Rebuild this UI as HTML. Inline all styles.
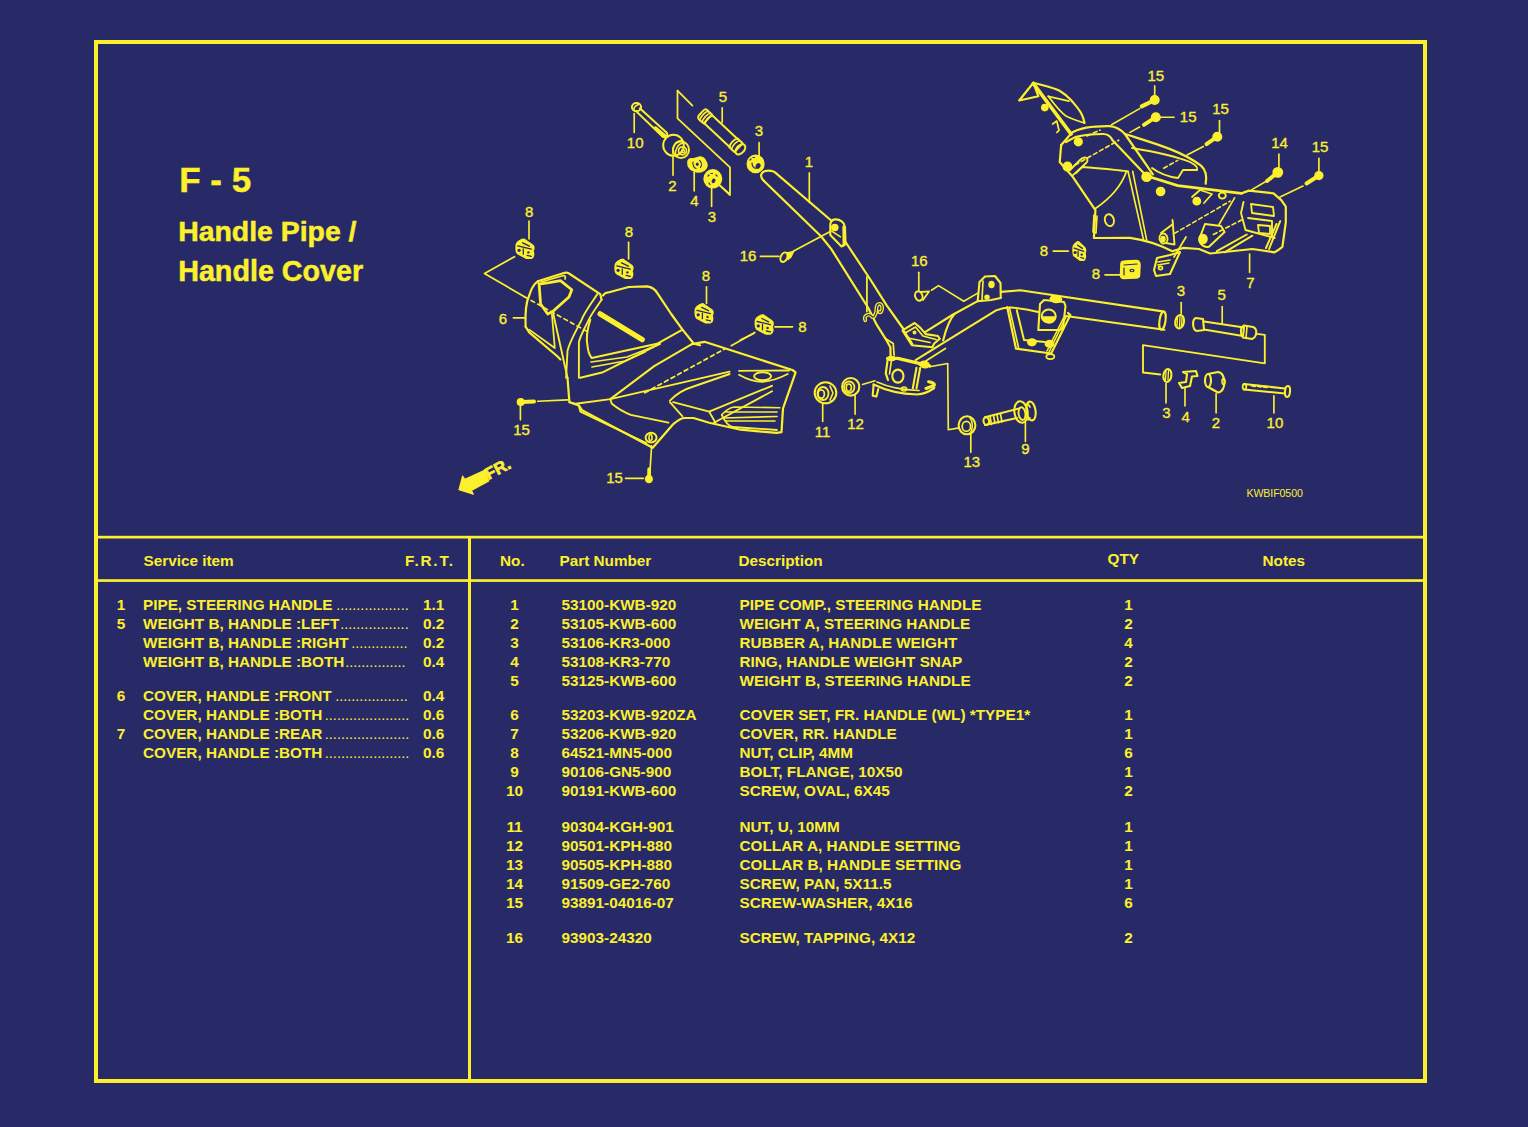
<!DOCTYPE html>
<html><head><meta charset="utf-8"><style>
html,body{margin:0;padding:0;background:rgb(40,42,104);width:1528px;height:1127px;overflow:hidden}
svg{position:absolute;left:0;top:0;display:block}
text{font-family:"Liberation Sans",sans-serif;fill:#fcf02c}
</style></head><body>
<svg width="1528" height="1127" viewBox="0 0 1528 1127">
<rect x="96" y="42" width="1329" height="1039" fill="none" stroke="#fcf02c" stroke-width="4"/>
<rect x="94" y="535.8" width="1333" height="2.7" fill="#fcf02c"/>
<rect x="94" y="579.2" width="1333" height="2.7" fill="#fcf02c"/>
<rect x="468" y="537" width="3" height="546" fill="#fcf02c"/>
<text x="0" y="0" font-size="35" font-weight="bold" transform="translate(179.2,191.6)" stroke="#fcf02c" stroke-width="0.4">F - 5</text>
<text x="178.2" y="240.8" font-size="28.4" font-weight="bold" stroke="#fcf02c" stroke-width="0.5">Handle Pipe /</text>
<text x="178.2" y="280.9" font-size="28.7" font-weight="bold" stroke="#fcf02c" stroke-width="0.5">Handle Cover</text>
<text x="143.5" y="565.5" font-size="15.3" font-weight="bold">Service item</text>
<text x="405" y="566" font-size="15.3" font-weight="bold" letter-spacing="1.8">F.R.T.</text>
<text x="500" y="566" font-size="15.3" font-weight="bold">No.</text>
<text x="559.5" y="566" font-size="15.3" font-weight="bold">Part Number</text>
<text x="738.5" y="566" font-size="15.3" font-weight="bold">Description</text>
<text x="1107.5" y="564" font-size="15.3" font-weight="bold">QTY</text>
<text x="1262.5" y="566" font-size="15.3" font-weight="bold">Notes</text>
<text x="121" y="609.6" font-size="15.3" font-weight="bold" text-anchor="middle">1</text>
<text x="143" y="609.6" font-size="15.3" font-weight="bold">PIPE, STEERING HANDLE</text>
<text x="336.2" y="609.6" font-size="14.5" font-weight="normal" letter-spacing="0">..................</text>
<text x="423" y="609.6" font-size="15.3" font-weight="bold">1.1</text>
<text x="121" y="628.7" font-size="15.3" font-weight="bold" text-anchor="middle">5</text>
<text x="143" y="628.7" font-size="15.3" font-weight="bold">WEIGHT B, HANDLE :LEFT</text>
<text x="340.2" y="628.7" font-size="14.5" font-weight="normal" letter-spacing="0">.................</text>
<text x="423" y="628.7" font-size="15.3" font-weight="bold">0.2</text>
<text x="143" y="647.8" font-size="15.3" font-weight="bold">WEIGHT B, HANDLE :RIGHT</text>
<text x="351.2" y="647.8" font-size="14.5" font-weight="normal" letter-spacing="0">..............</text>
<text x="423" y="647.8" font-size="15.3" font-weight="bold">0.2</text>
<text x="143" y="666.9" font-size="15.3" font-weight="bold">WEIGHT B, HANDLE :BOTH</text>
<text x="345.2" y="666.9" font-size="14.5" font-weight="normal" letter-spacing="0">...............</text>
<text x="423" y="666.9" font-size="15.3" font-weight="bold">0.4</text>
<text x="121" y="700.7" font-size="15.3" font-weight="bold" text-anchor="middle">6</text>
<text x="143" y="700.7" font-size="15.3" font-weight="bold">COVER, HANDLE :FRONT</text>
<text x="335.2" y="700.7" font-size="14.5" font-weight="normal" letter-spacing="0">..................</text>
<text x="423" y="700.7" font-size="15.3" font-weight="bold">0.4</text>
<text x="143" y="719.8" font-size="15.3" font-weight="bold">COVER, HANDLE :BOTH</text>
<text x="324.8" y="719.8" font-size="14.5" font-weight="normal" letter-spacing="0">.....................</text>
<text x="423" y="719.8" font-size="15.3" font-weight="bold">0.6</text>
<text x="121" y="738.9" font-size="15.3" font-weight="bold" text-anchor="middle">7</text>
<text x="143" y="738.9" font-size="15.3" font-weight="bold">COVER, HANDLE :REAR</text>
<text x="324.8" y="738.9" font-size="14.5" font-weight="normal" letter-spacing="0">.....................</text>
<text x="423" y="738.9" font-size="15.3" font-weight="bold">0.6</text>
<text x="143" y="758.0" font-size="15.3" font-weight="bold">COVER, HANDLE :BOTH</text>
<text x="324.8" y="758.0" font-size="14.5" font-weight="normal" letter-spacing="0">.....................</text>
<text x="423" y="758.0" font-size="15.3" font-weight="bold">0.6</text>
<text x="514.5" y="609.5" font-size="15.3" font-weight="bold" text-anchor="middle">1</text>
<text x="561.5" y="609.5" font-size="15.3" font-weight="bold">53100-KWB-920</text>
<text x="739.5" y="609.5" font-size="15.3" font-weight="bold">PIPE COMP., STEERING HANDLE</text>
<text x="1128.5" y="609.5" font-size="15.3" font-weight="bold" text-anchor="middle">1</text>
<text x="514.5" y="628.6" font-size="15.3" font-weight="bold" text-anchor="middle">2</text>
<text x="561.5" y="628.6" font-size="15.3" font-weight="bold">53105-KWB-600</text>
<text x="739.5" y="628.6" font-size="15.3" font-weight="bold">WEIGHT A, STEERING HANDLE</text>
<text x="1128.5" y="628.6" font-size="15.3" font-weight="bold" text-anchor="middle">2</text>
<text x="514.5" y="647.7" font-size="15.3" font-weight="bold" text-anchor="middle">3</text>
<text x="561.5" y="647.7" font-size="15.3" font-weight="bold">53106-KR3-000</text>
<text x="739.5" y="647.7" font-size="15.3" font-weight="bold">RUBBER A, HANDLE WEIGHT</text>
<text x="1128.5" y="647.7" font-size="15.3" font-weight="bold" text-anchor="middle">4</text>
<text x="514.5" y="666.8" font-size="15.3" font-weight="bold" text-anchor="middle">4</text>
<text x="561.5" y="666.8" font-size="15.3" font-weight="bold">53108-KR3-770</text>
<text x="739.5" y="666.8" font-size="15.3" font-weight="bold">RING, HANDLE WEIGHT SNAP</text>
<text x="1128.5" y="666.8" font-size="15.3" font-weight="bold" text-anchor="middle">2</text>
<text x="514.5" y="685.9" font-size="15.3" font-weight="bold" text-anchor="middle">5</text>
<text x="561.5" y="685.9" font-size="15.3" font-weight="bold">53125-KWB-600</text>
<text x="739.5" y="685.9" font-size="15.3" font-weight="bold">WEIGHT B, STEERING HANDLE</text>
<text x="1128.5" y="685.9" font-size="15.3" font-weight="bold" text-anchor="middle">2</text>
<text x="514.5" y="719.6" font-size="15.3" font-weight="bold" text-anchor="middle">6</text>
<text x="561.5" y="719.6" font-size="15.3" font-weight="bold">53203-KWB-920ZA</text>
<text x="739.5" y="719.6" font-size="15.3" font-weight="bold">COVER SET, FR. HANDLE (WL) *TYPE1*</text>
<text x="1128.5" y="719.6" font-size="15.3" font-weight="bold" text-anchor="middle">1</text>
<text x="514.5" y="738.7" font-size="15.3" font-weight="bold" text-anchor="middle">7</text>
<text x="561.5" y="738.7" font-size="15.3" font-weight="bold">53206-KWB-920</text>
<text x="739.5" y="738.7" font-size="15.3" font-weight="bold">COVER, RR. HANDLE</text>
<text x="1128.5" y="738.7" font-size="15.3" font-weight="bold" text-anchor="middle">1</text>
<text x="514.5" y="757.8" font-size="15.3" font-weight="bold" text-anchor="middle">8</text>
<text x="561.5" y="757.8" font-size="15.3" font-weight="bold">64521-MN5-000</text>
<text x="739.5" y="757.8" font-size="15.3" font-weight="bold">NUT, CLIP, 4MM</text>
<text x="1128.5" y="757.8" font-size="15.3" font-weight="bold" text-anchor="middle">6</text>
<text x="514.5" y="776.9" font-size="15.3" font-weight="bold" text-anchor="middle">9</text>
<text x="561.5" y="776.9" font-size="15.3" font-weight="bold">90106-GN5-900</text>
<text x="739.5" y="776.9" font-size="15.3" font-weight="bold">BOLT, FLANGE, 10X50</text>
<text x="1128.5" y="776.9" font-size="15.3" font-weight="bold" text-anchor="middle">1</text>
<text x="514.5" y="796.0" font-size="15.3" font-weight="bold" text-anchor="middle">10</text>
<text x="561.5" y="796.0" font-size="15.3" font-weight="bold">90191-KWB-600</text>
<text x="739.5" y="796.0" font-size="15.3" font-weight="bold">SCREW, OVAL, 6X45</text>
<text x="1128.5" y="796.0" font-size="15.3" font-weight="bold" text-anchor="middle">2</text>
<text x="514.5" y="831.7" font-size="15.3" font-weight="bold" text-anchor="middle">11</text>
<text x="561.5" y="831.7" font-size="15.3" font-weight="bold">90304-KGH-901</text>
<text x="739.5" y="831.7" font-size="15.3" font-weight="bold">NUT, U, 10MM</text>
<text x="1128.5" y="831.7" font-size="15.3" font-weight="bold" text-anchor="middle">1</text>
<text x="514.5" y="850.8" font-size="15.3" font-weight="bold" text-anchor="middle">12</text>
<text x="561.5" y="850.8" font-size="15.3" font-weight="bold">90501-KPH-880</text>
<text x="739.5" y="850.8" font-size="15.3" font-weight="bold">COLLAR A, HANDLE SETTING</text>
<text x="1128.5" y="850.8" font-size="15.3" font-weight="bold" text-anchor="middle">1</text>
<text x="514.5" y="869.9" font-size="15.3" font-weight="bold" text-anchor="middle">13</text>
<text x="561.5" y="869.9" font-size="15.3" font-weight="bold">90505-KPH-880</text>
<text x="739.5" y="869.9" font-size="15.3" font-weight="bold">COLLAR B, HANDLE SETTING</text>
<text x="1128.5" y="869.9" font-size="15.3" font-weight="bold" text-anchor="middle">1</text>
<text x="514.5" y="889.0" font-size="15.3" font-weight="bold" text-anchor="middle">14</text>
<text x="561.5" y="889.0" font-size="15.3" font-weight="bold">91509-GE2-760</text>
<text x="739.5" y="889.0" font-size="15.3" font-weight="bold">SCREW, PAN, 5X11.5</text>
<text x="1128.5" y="889.0" font-size="15.3" font-weight="bold" text-anchor="middle">1</text>
<text x="514.5" y="908.1" font-size="15.3" font-weight="bold" text-anchor="middle">15</text>
<text x="561.5" y="908.1" font-size="15.3" font-weight="bold">93891-04016-07</text>
<text x="739.5" y="908.1" font-size="15.3" font-weight="bold">SCREW-WASHER, 4X16</text>
<text x="1128.5" y="908.1" font-size="15.3" font-weight="bold" text-anchor="middle">6</text>
<text x="514.5" y="942.9" font-size="15.3" font-weight="bold" text-anchor="middle">16</text>
<text x="561.5" y="942.9" font-size="15.3" font-weight="bold">93903-24320</text>
<text x="739.5" y="942.9" font-size="15.3" font-weight="bold">SCREW, TAPPING, 4X12</text>
<text x="1128.5" y="942.9" font-size="15.3" font-weight="bold" text-anchor="middle">2</text>

<g fill="none" stroke="#fcf02c" stroke-width="2" stroke-linejoin="round" stroke-linecap="round">
<text x="635.2" y="147.9" font-size="15" text-anchor="middle" stroke="#fcf02c" stroke-width="0.35">10</text>
<text x="723.0" y="101.7" font-size="15" text-anchor="middle" stroke="#fcf02c" stroke-width="0.35">5</text>
<text x="758.8" y="135.8" font-size="15" text-anchor="middle" stroke="#fcf02c" stroke-width="0.35">3</text>
<text x="672.5" y="190.5" font-size="15" text-anchor="middle" stroke="#fcf02c" stroke-width="0.35">2</text>
<text x="694.5" y="206.1" font-size="15" text-anchor="middle" stroke="#fcf02c" stroke-width="0.35">4</text>
<text x="711.9" y="221.8" font-size="15" text-anchor="middle" stroke="#fcf02c" stroke-width="0.35">3</text>
<text x="529.1" y="216.5" font-size="15" text-anchor="middle" stroke="#fcf02c" stroke-width="0.35">8</text>
<text x="628.9" y="237.2" font-size="15" text-anchor="middle" stroke="#fcf02c" stroke-width="0.35">8</text>
<text x="706.0" y="281.2" font-size="15" text-anchor="middle" stroke="#fcf02c" stroke-width="0.35">8</text>
<text x="802.3" y="332.1" font-size="15" text-anchor="middle" stroke="#fcf02c" stroke-width="0.35">8</text>
<text x="503.0" y="323.8" font-size="15" text-anchor="middle" stroke="#fcf02c" stroke-width="0.35">6</text>
<text x="521.6" y="435.3" font-size="15" text-anchor="middle" stroke="#fcf02c" stroke-width="0.35">15</text>
<text x="614.5" y="483.4" font-size="15" text-anchor="middle" stroke="#fcf02c" stroke-width="0.35">15</text>
<text x="809.0" y="166.8" font-size="15" text-anchor="middle" stroke="#fcf02c" stroke-width="0.35">1</text>
<text x="748.1" y="261.3" font-size="15" text-anchor="middle" stroke="#fcf02c" stroke-width="0.35">16</text>
<text x="919.3" y="265.5" font-size="15" text-anchor="middle" stroke="#fcf02c" stroke-width="0.35">16</text>
<text x="855.5" y="429.3" font-size="15" text-anchor="middle" stroke="#fcf02c" stroke-width="0.35">12</text>
<text x="822.5" y="436.9" font-size="15" text-anchor="middle" stroke="#fcf02c" stroke-width="0.35">11</text>
<text x="971.8" y="466.9" font-size="15" text-anchor="middle" stroke="#fcf02c" stroke-width="0.35">13</text>
<text x="1025.4" y="454.2" font-size="15" text-anchor="middle" stroke="#fcf02c" stroke-width="0.35">9</text>
<text x="1181.0" y="296.4" font-size="15" text-anchor="middle" stroke="#fcf02c" stroke-width="0.35">3</text>
<text x="1221.7" y="300.4" font-size="15" text-anchor="middle" stroke="#fcf02c" stroke-width="0.35">5</text>
<text x="1166.3" y="418.1" font-size="15" text-anchor="middle" stroke="#fcf02c" stroke-width="0.35">3</text>
<text x="1185.7" y="422.2" font-size="15" text-anchor="middle" stroke="#fcf02c" stroke-width="0.35">4</text>
<text x="1216.0" y="428.3" font-size="15" text-anchor="middle" stroke="#fcf02c" stroke-width="0.35">2</text>
<text x="1274.9" y="428.3" font-size="15" text-anchor="middle" stroke="#fcf02c" stroke-width="0.35">10</text>
<text x="1250.5" y="288.3" font-size="15" text-anchor="middle" stroke="#fcf02c" stroke-width="0.35">7</text>
<text x="1155.8" y="80.6" font-size="15" text-anchor="middle" stroke="#fcf02c" stroke-width="0.35">15</text>
<text x="1188.2" y="121.6" font-size="15" text-anchor="middle" stroke="#fcf02c" stroke-width="0.35">15</text>
<text x="1220.5" y="114.1" font-size="15" text-anchor="middle" stroke="#fcf02c" stroke-width="0.35">15</text>
<text x="1279.5" y="147.6" font-size="15" text-anchor="middle" stroke="#fcf02c" stroke-width="0.35">14</text>
<text x="1320.0" y="151.9" font-size="15" text-anchor="middle" stroke="#fcf02c" stroke-width="0.35">15</text>
<text x="1044.0" y="255.5" font-size="15" text-anchor="middle" stroke="#fcf02c" stroke-width="0.35">8</text>
<text x="1095.8" y="279.3" font-size="15" text-anchor="middle" stroke="#fcf02c" stroke-width="0.35">8</text>
<ellipse cx="636.5" cy="107.1" rx="4.6" ry="4.2" stroke-width="1.98"/>
<path d="M638.5,104.5 C634,106 633,109 634.5,111" stroke-width="1.65"/>
<path d="M636.0,111.1 L662.5,136.5" stroke-width="1.98"/>
<path d="M639.8,108.3 L666.5,132.5" stroke-width="1.98"/>
<path d="M662.5,136.5 C666,139 668.5,135.5 666.5,132.5" stroke-width="1.98"/>
<path d="M655.5,128 L664.5,135.5" stroke-width="3.52"/>
<path d="M634.2,113.5 L634.2,132.5" stroke-width="1.65"/>
<path d="M677.5,90.7 L677.5,118.4 L730,167.4 L730,195 L719.4,185.1" stroke-width="1.76"/>
<path d="M677.5,90.7 L692.4,105.6" stroke-width="1.76"/>
<ellipse cx="673.5" cy="145.3" rx="10.3" ry="10.5" stroke-width="1.98"/>
<ellipse cx="681" cy="149.8" rx="8" ry="8.3" stroke-width="1.98"/>
<path d="M673,154 C672,147 675,141 681.5,140.5" stroke-width="1.54"/>
<path d="M675.5,155 C675,149 678,144 683,143" stroke-width="1.54"/>
<ellipse cx="682.5" cy="150.8" rx="4" ry="4" stroke-width="1.76"/>
<ellipse cx="683" cy="151.2" rx="1.5" ry="1.5" stroke-width="1.54"/>
<path d="M673,156.7 L673,175.3" stroke-width="1.65"/>
<path d="M688,164 C687,160 690,158 693,159 L700,157 C704,157 707,162 707,166 C706,170 702,172 697,172 L692,170 C689,168 688,166 688,164 Z" stroke-width="1.54" fill="#fcf02c"/>
<ellipse cx="697.3" cy="164.2" rx="1.4" ry="1.8" fill="rgb(40,42,104)" stroke="none"/>
<path d="M693,162 C692.5,165 694,168 696,168.5 M699.5,160.5 C701.5,162 702,165 700.5,167.5" stroke="rgb(40,42,104)" stroke-width="1.1"/>
<path d="M694.2,172.2 L694.2,190.9" stroke-width="1.65"/>
<ellipse cx="712.8" cy="178.8" rx="8.6" ry="8.8" stroke-width="1.76" fill="#fcf02c"/>
<ellipse cx="713.6" cy="180.9" rx="1.8" ry="2.4" fill="rgb(40,42,104)" stroke="none" transform="rotate(30 713.6 180.9)"/>
<path d="M708,176 L709,175 M711,173.5 L712.5,173.5 M716,175 L717,176 M709,183 L710,184.5" stroke="rgb(40,42,104)" stroke-width="1.2"/>
<path d="M711.6,187.8 L711.6,206.4" stroke-width="1.65"/>
<path d="M719,184.7 L728.9,193.4" stroke-width="1.65"/>
<g transform="translate(702,113.5) rotate(43)">
<path d="M-1,-3 C-1,-6 1,-6.5 3,-6 L8,-6 L8,6 L3,6.5 C0,6.5 -1,5 -1,3 Z" stroke-width="1.98"/>
<path d="M3,-6 C1,-3 1,3 3,6.5 M6,-6 C4,-3 4,3 6,6" stroke-width="1.65"/>
<path d="M9,-5.6 L43,-5.6 M9,5.6 L43,5.6" stroke-width="1.98"/>
<path d="M9,-5.6 C7,-2 7,2 9,5.6" stroke-width="1.76"/>
<path d="M43,-6 L50,-6 L50,6 L43,6 C41,2 41,-2 43,-6 Z" stroke-width="1.98"/>
<path d="M46,-6 C44,-2 44,2 46,6" stroke-width="1.65"/>
<ellipse cx="52.5" cy="0" rx="3.8" ry="6" stroke-width="1.98"/>
</g>
<path d="M722.2,107.7 L722.2,122.6" stroke-width="1.65"/>
<ellipse cx="755.6" cy="163.9" rx="8.2" ry="8.4" stroke-width="1.76" fill="#fcf02c"/>
<ellipse cx="758.1" cy="166" rx="2.3" ry="3" fill="rgb(40,42,104)" stroke="none" transform="rotate(30 758.1 166)"/>
<path d="M750,160 L751,159 M753,157.5 L754.5,157.5 M752,163 C752,166 754,168 756,168.5" stroke="rgb(40,42,104)" stroke-width="1.2"/>
<path d="M759.1,142.5 L759.1,156.7" stroke-width="1.65"/>
<path d="M770.5,170.8 C772,170.8 773.5,171.2 775,172.3 L831.2,220.5 M845.5,242 L870,279 L886.5,305.2 L903.8,329.5" stroke-width="2.20"/>
<path d="M764,181 L821,236.3 L831.2,248.9 L868.3,308 L876.2,323.8 L886.7,340.7 L890.4,347.2 L890.6,357" stroke-width="2.20"/>
<path d="M764,181 C758,175 762,170 770.5,170.8" stroke-width="2.20"/>
<path d="M885.8,338.8 L893.2,343.5 L894.1,355" stroke-width="1.76"/>
<path d="M830.3,235 L830.3,224 C831,221 833,219.4 835.5,219.4 C840,219.4 844.5,222 845,227 L845.5,244 L841.5,246.5 L830.3,235" stroke-width="2.09"/>
<path d="M843.8,227 L844,245" stroke-width="2.86"/>
<ellipse cx="834.8" cy="227.4" rx="3" ry="3" stroke-width="1.54" fill="#fcf02c"/>
<path d="M832.5,231.6 L840.5,236.9" stroke-width="1.65"/>
<path d="M809.3,172.9 L809.3,202.4" stroke-width="1.65"/>
<ellipse cx="784" cy="257.2" rx="3.2" ry="5" stroke-width="1.98" transform="rotate(25 784 257.2)"/>
<path d="M787,253 L793.6,251.5 L791,257 L788,259.5 Z" stroke-width="1.32" fill="#fcf02c"/>
<path d="M760.4,256.4 L778.9,256.4" stroke-width="1.65"/>
<path d="M793.2,251.3 L831.2,231" stroke-width="1.65"/>
<path d="M866.9,276.9 L866.9,311.5" stroke-width="1.76"/>
<path d="M865.3,320.2 C863.4,315.5 869,312.7 871.8,316.4 C873.6,319.2 876.4,313.6 876.4,309 C876.4,304.3 880.2,301.5 882,306.2 C883,310.8 880.2,313.6 879.2,311.8" stroke-width="3.74"/>
<path d="M865.3,320.2 C863.4,315.5 869,312.7 871.8,316.4 C873.6,319.2 876.4,313.6 876.4,309 C876.4,304.3 880.2,301.5 882,306.2 C883,310.8 880.2,313.6 879.2,311.8" stroke-width="1.10" stroke="rgb(40,42,104)"/>
<path d="M902.5,330.4 L914.6,323 L920.2,327.6 L925.8,334.1 L937.9,336 L939.8,338.8 L934.2,343.5 L932.4,347.2 L911.9,345.3 Z" stroke-width="2.09"/>
<path d="M905,333 L915.5,327 L923,336 L936,339.5" stroke-width="1.65"/>
<path d="M908,338 L930,342.5" stroke-width="1.65"/>
<path d="M904,331.5 L912,344" stroke-width="2.64"/>
<ellipse cx="914.5" cy="332.5" rx="1.3" ry="1.3" stroke-width="1.32" fill="#fcf02c"/>
<path d="M924.6,332.3 L952.3,315 L977.7,301.2" stroke-width="2.09"/>
<path d="M915.6,360.2 L945.4,341.6 L975.4,323.1 L996.1,310.4 C1002,308 1006,307.5 1010,307.5" stroke-width="2.09"/>
<path d="M919.5,365 L945.4,348.5" stroke-width="1.76"/>
<path d="M943.1,340.4 C945,333 949,320 954.6,313.8" stroke-width="2.09"/>
<path d="M887.6,358.4 L897.9,358.4 L929.6,365.8" stroke-width="3.30"/>
<path d="M887.6,360.2 L885.8,373.3 L888,380" stroke-width="2.20"/>
<path d="M891.5,360 L889.5,374" stroke-width="1.65"/>
<ellipse cx="897.9" cy="376.1" rx="5.6" ry="6.5" stroke-width="2.09"/>
<path d="M916.5,367.7 L912.8,388.2 M920.2,367.7 L916.5,388.2" stroke-width="2.09"/>
<path d="M873.6,384.5 C885,390 900,394 917,394.5 C925,394 930,391 934.2,388" stroke-width="2.20"/>
<path d="M877,382 C888,387 903,390 919,390.5" stroke-width="1.65"/>
<path d="M873.6,384.5 L872.7,395.7 L876.4,396.6 L878.3,389.1" stroke-width="2.09"/>
<path d="M928.6,381.7 C932,382 935,384 934.2,385.4 L926,388.5" stroke-width="3.08"/>
<ellipse cx="904" cy="389" rx="2.6" ry="2" stroke-width="1.54"/>
<ellipse cx="924.5" cy="364.5" rx="4.5" ry="3.2" stroke-width="1.32" fill="#fcf02c" transform="rotate(10 924.5 364.5)"/>
<ellipse cx="891.5" cy="358.5" rx="3.8" ry="2" stroke-width="1.32" fill="#fcf02c"/>
<path d="M977.7,301.2 L979.5,282 L985,276.5 L995,276 L1000.5,283 L1000.8,298 L991,300 Z" stroke-width="2.09"/>
<path d="M983,281 L982,300" stroke-width="1.65"/>
<ellipse cx="991.5" cy="284.5" rx="2.4" ry="3" stroke-width="1.65" fill="#fcf02c"/>
<ellipse cx="987" cy="297" rx="2" ry="1.8" stroke-width="1.65" fill="#fcf02c"/>
<path d="M1000.8,291.9 L1020.3,290.3 L1164.3,311.6" stroke-width="2.09"/>
<path d="M929.6,366.8 L947.7,363.5 L948.3,429.8 L959.1,427.9" stroke-width="1.65"/>
<ellipse cx="825.5" cy="392.8" rx="10.8" ry="10.5" stroke-width="2.09"/>
<ellipse cx="823" cy="393.5" rx="5.5" ry="6.5" stroke-width="1.87"/>
<ellipse cx="821.2" cy="394" rx="3.2" ry="4.2" stroke-width="1.76"/>
<path d="M830,386 L833,393 L830,400" stroke-width="1.65"/>
<path d="M822.7,403.5 L822.7,421.5" stroke-width="1.65"/>
<ellipse cx="850.7" cy="386.8" rx="8.6" ry="8.8" stroke-width="2.09"/>
<ellipse cx="849.2" cy="387.3" rx="5.2" ry="5.8" stroke-width="1.76"/>
<ellipse cx="848.8" cy="387.6" rx="2.6" ry="3.6" stroke-width="1.65"/>
<path d="M855.1,395.5 L855.1,414.3" stroke-width="1.65"/>
<path d="M862.5,384.5 L875,380.8" stroke-width="1.65"/>
<ellipse cx="918.8" cy="296" rx="3.6" ry="4.8" stroke-width="1.98" transform="rotate(-20 918.8 296)"/>
<path d="M921,292 L929.2,291.3 L923,300" stroke-width="1.76"/>
<path d="M918.8,272.3 L918.8,290.5" stroke-width="1.65"/>
<path d="M931.5,290.2 L938.5,285.6 L963.8,301.2 L977.7,293.1" stroke-width="1.65"/>
<ellipse cx="967" cy="425.3" rx="8.4" ry="9" stroke-width="2.09"/>
<ellipse cx="966.4" cy="426.4" rx="4.2" ry="5" stroke-width="1.76"/>
<path d="M970,418 C973,421 973,430 970,433" stroke-width="1.54"/>
<path d="M970.8,433.7 L970.8,452.3" stroke-width="1.65"/>
<path d="M985,417.2 L1019,408.5 M985,425 L1017,418" stroke-width="2.09"/>
<ellipse cx="986.3" cy="421.1" rx="2.8" ry="3.9" stroke-width="1.98" transform="rotate(-10 986.3 421.1)"/>
<path d="M990,416.5 L991.5,424.5 M993.5,415.5 L995,423.5 M997,414.8 L998.5,422.8 M1000.5,414 L1002,422" stroke-width="1.65"/>
<ellipse cx="1031" cy="411" rx="4.6" ry="9.5" stroke-width="2.09" transform="rotate(-8 1031 411)"/>
<ellipse cx="1021" cy="412" rx="6.6" ry="10.8" stroke-width="2.09" transform="rotate(-8 1021 412)"/>
<ellipse cx="1022" cy="413.6" rx="3.4" ry="6.4" stroke-width="1.87" transform="rotate(-8 1022 413.6)"/>
<path d="M1028,404 L1030,407 M1030,418 L1028,420" stroke-width="1.65"/>
<path d="M1025.4,422 L1025.4,441.5" stroke-width="1.65"/>
<path d="M1010,307.5 C1020,308 1030,310 1038.3,312" stroke-width="2.09"/>
<path d="M1066,316 L1164.3,329.8" stroke-width="2.09"/>
<ellipse cx="1162.5" cy="320.7" rx="3" ry="9" stroke-width="2.09" transform="rotate(8 1162.5 320.7)"/>
<path d="M1007.2,307.1 L1016,348.7 L1051.1,353.5 L1070.3,315.1 L1068,313" stroke-width="2.20"/>
<path d="M1009.5,308 L1018.5,347.5" stroke-width="1.65"/>
<path d="M1016.8,310.3 L1024,339.9 L1045,342" stroke-width="1.98"/>
<path d="M1066,317 L1049,352 M1063.5,318 L1047,351" stroke-width="1.65"/>
<ellipse cx="1031.9" cy="342.3" rx="4" ry="3.2" stroke-width="1.76" fill="#fcf02c"/>
<ellipse cx="1049.5" cy="343.9" rx="4" ry="3.2" stroke-width="1.76" fill="#fcf02c"/>
<ellipse cx="1050.3" cy="356.6" rx="4" ry="2.5" stroke-width="1.76"/>
<path d="M1038.3,330 L1040,304 L1044,300 L1064,302 L1065.5,306 L1063,328 L1060,330 Z" stroke-width="2.09"/>
<ellipse cx="1055.9" cy="299.2" rx="5.5" ry="3.2" stroke-width="1.76" fill="#fcf02c" transform="rotate(5 1055.9 299.2)"/>
<ellipse cx="1048.7" cy="316" rx="7" ry="6.5" stroke-width="1.98"/>
<path d="M1042,317 C1043,324 1054,325 1055.5,317 Z" stroke-width="1.65" fill="#fcf02c"/>
<ellipse cx="1179.6" cy="321.7" rx="4.3" ry="6.8" stroke-width="2.09" transform="rotate(10 1179.6 321.7)"/>
<path d="M1177.5,318 L1177,326 M1180,316.5 L1179.5,327 M1182,317 L1181.5,326" stroke-width="1.32"/>
<path d="M1181.2,302.5 L1181.2,313.6" stroke-width="1.65"/>
<path d="M1196,318 L1203,319 L1204,330 L1197,331 C1192,330 1192,319 1196,318 Z" stroke-width="2.09"/>
<path d="M1204,321.5 L1244,327.5 L1243,336 L1204,329.5" stroke-width="2.09"/>
<path d="M1244,325.5 L1253,327 C1258,329 1257,337 1252,339 L1243,337.5 C1240,334 1240,327 1244,325.5 Z" stroke-width="2.09"/>
<path d="M1247,327 L1246,338" stroke-width="1.65"/>
<path d="M1222.2,306.5 L1222.2,323.8" stroke-width="1.65"/>
<path d="M1256.6,333.9 L1264.8,334.9 L1264.8,363.3 L1143,345.1 L1143,372.5 L1160.3,374.5" stroke-width="1.87"/>
<ellipse cx="1167.4" cy="375.5" rx="4" ry="6.5" stroke-width="2.09" transform="rotate(8 1167.4 375.5)"/>
<path d="M1166,371 L1165.5,380 M1168.5,370.5 L1168,380" stroke-width="1.32"/>
<path d="M1166,383.6 L1166,402.9" stroke-width="1.65"/>
<path d="M1179,383 L1186,382 L1187,374 L1183,372 L1196,371 L1197.5,376 L1192,376.5 L1190,386 L1182,388 Z" stroke-width="2.09"/>
<path d="M1185,388 L1185,405.9" stroke-width="1.65"/>
<ellipse cx="1208" cy="380.5" rx="3" ry="6.5" stroke-width="2.09"/>
<path d="M1208,374 L1218,372 C1226,372 1227,392 1218,392.5 L1208,387" stroke-width="2.09"/>
<ellipse cx="1223.5" cy="381.5" rx="1.5" ry="3" stroke-width="1.54"/>
<path d="M1216.1,393.8 L1216.1,413" stroke-width="1.65"/>
<path d="M1244,384 L1285,388.5 M1244,389.5 L1285,393.5" stroke-width="2.09"/>
<ellipse cx="1244.5" cy="386.8" rx="1.8" ry="2.8" stroke-width="1.76"/>
<ellipse cx="1287.5" cy="391.5" rx="2.5" ry="5.5" stroke-width="2.09" transform="rotate(5 1287.5 391.5)"/>
<path d="M1252,385.5 L1255,386 M1258,386 L1261,386.5 M1264,386.8 L1267,387" stroke-width="2.42"/>
<path d="M1273.9,395.8 L1273.9,413" stroke-width="1.65"/>
<path d="M1019.2,100.5 L1033.4,82.8 L1038.4,96.3 Z" stroke-width="2.20"/>
<path d="M1033.4,82.8 C1045,86 1055,88 1060,91 C1065,94 1068,97 1071,100 C1076,106 1080,110 1082,115 C1083.5,118 1084,121 1084.5,123" stroke-width="2.20"/>
<path d="M1048.3,96.3 L1068.9,101.2" stroke-width="1.76"/>
<path d="M1048.3,96.3 C1054,104 1060,112 1066,116 C1072,119 1078,121 1084.5,123" stroke-width="1.76"/>
<path d="M1033.4,83.5 L1071,134" stroke-width="3.74"/>
<path d="M1052.6,123.9 L1056.8,121.1 L1059,130.3 L1056.8,132.5" stroke-width="1.76"/>
<ellipse cx="1044.8" cy="107.6" rx="3" ry="3" stroke-width="1.65" fill="#fcf02c"/>
<path d="M1061.2,144.9 L1072.1,132.5 C1080,128 1092,126 1109.4,126.2 C1116,126.5 1121,130 1124.9,134 L1152.9,174.4" stroke-width="2.20"/>
<path d="M1066,142 L1075.2,137.1 C1085,134.5 1095,134 1103.2,134 C1108,134 1111,137 1112.5,140.2 L1146.6,175.9" stroke-width="2.20"/>
<path d="M1061.2,144.9 L1059.7,162 L1072.1,175.9 L1095.4,210.1 L1093.9,238 L1130,237.9 C1145,240 1160,245 1172.3,251.2 L1183.4,247.9 L1199,249 L1210.1,253.5 L1252.4,249 L1274.6,252.3 C1280,249 1282,247 1282.4,246.8 L1285.8,222.3 L1285.8,206.7 L1281.3,200.1 L1273.5,193.4 L1249,190.6 L1241.3,193.4" stroke-width="2.20"/>
<path d="M1147,176 L1177.8,185.6 L1241.3,193.4" stroke-width="2.86"/>
<path d="M1124.9,134 C1150,142 1180,150 1201,165.6 C1206,170 1207,176 1205.7,183.7" stroke-width="2.20"/>
<path d="M1132,148 C1150,151 1175,156 1190,162 C1196,165 1198,168 1197,170 L1183,170 L1178,178 C1170,177 1160,174 1152,168" stroke-width="1.87"/>
<path d="M1072.1,175.9 L1082,167 C1100,168 1115,170 1128,171.3" stroke-width="1.76"/>
<path d="M1095.4,208.5 C1105,202 1120,190 1126.5,171.3" stroke-width="1.76"/>
<path d="M1128,171.3 L1143.5,239.6 M1132.7,171.3 L1146.6,239.6" stroke-width="1.65"/>
<ellipse cx="1109.4" cy="220.2" rx="4.5" ry="6" stroke-width="1.87" transform="rotate(-15 1109.4 220.2)"/>
<path d="M1094,215 L1093,232 L1096,233 L1097,216" stroke-width="1.65"/>
<path d="M1070,170 L1080,160 C1084,156 1089,157 1087,162 L1076,173" stroke-width="1.87"/>
<ellipse cx="1067.5" cy="166.6" rx="4.2" ry="4.2" stroke-width="1.65" fill="#fcf02c"/>
<ellipse cx="1078.3" cy="141.8" rx="3.8" ry="3.8" stroke-width="1.65" fill="#fcf02c"/>
<ellipse cx="1146.6" cy="176.7" rx="4.5" ry="4.5" stroke-width="1.65" fill="#fcf02c"/>
<ellipse cx="1160.6" cy="191.5" rx="4" ry="4" stroke-width="1.65" fill="#fcf02c"/>
<ellipse cx="1196.8" cy="201.2" rx="3.6" ry="3.6" stroke-width="1.65" fill="#fcf02c"/>
<ellipse cx="1222.3" cy="195.6" rx="3.5" ry="3" stroke-width="1.87"/>
<path d="M1192,197 L1200,190 L1212,194 L1204,203" stroke-width="1.76"/>
<path d="M1075.2,165 L1118.7,140.2" stroke-width="1.65" stroke-dasharray="4 3"/>
<path d="M1087,136 L1100,130" stroke-width="1.65" stroke-dasharray="4 3"/>
<path d="M1163.7,168.2 L1177.7,160.4" stroke-width="1.65" stroke-dasharray="4 3"/>
<path d="M1174.5,233.4 L1230.1,201.2" stroke-width="1.65" stroke-dasharray="4 3"/>
<path d="M1213.4,234.5 L1241.3,220.1" stroke-width="1.65" stroke-dasharray="4 3"/>
<path d="M1243.5,202 L1241,213 L1245.5,230 L1274.6,238" stroke-width="1.87"/>
<path d="M1251,204 L1273,207 L1274,216 L1252,213 Z" stroke-width="1.87"/>
<path d="M1248,218 L1272,221 L1272,236" stroke-width="1.87"/>
<path d="M1258,225 L1270,226 L1270,234 L1259,233 Z" stroke-width="1.87"/>
<path d="M1234.6,197.8 L1219,224.5" stroke-width="1.65"/>
<path d="M1246.8,234.5 L1216.8,251.2 M1252.4,235.7 L1224.6,252.3" stroke-width="1.98"/>
<path d="M1280.2,221.2 L1269.1,249 M1276.5,224 L1266,248" stroke-width="1.98"/>
<path d="M1205,224 L1221,226 L1224.6,232 L1209,246.8 C1202,248 1198,242 1200,237 Z" stroke-width="1.98"/>
<ellipse cx="1203" cy="239" rx="4" ry="4.5" stroke-width="1.65" fill="#fcf02c"/>
<path d="M1161,233 L1173,224 L1172.5,220 L1174.5,244.6 L1166,243" stroke-width="1.87"/>
<ellipse cx="1163.5" cy="238.5" rx="4" ry="5" stroke-width="1.87" transform="rotate(-10 1163.5 238.5)"/>
<ellipse cx="1163" cy="239" rx="2" ry="2.6" stroke-width="1.54" fill="#fcf02c"/>
<path d="M1186,237 L1174,257" stroke-width="1.76"/>
<path d="M1154,270 L1157,258 L1170,255 L1180,252 L1170,274 L1156,276 Z" stroke-width="2.09"/>
<path d="M1158,262 L1170,260 M1158,265 L1169,263" stroke-width="1.65"/>
<ellipse cx="1160.5" cy="268" rx="2" ry="1.6" stroke-width="1.65"/>
<path d="M1249.6,254 L1249.6,272.4" stroke-width="1.65"/>
<ellipse cx="1154.7" cy="100" rx="4.2" ry="4.2" stroke-width="1.65" fill="#fcf02c"/>
<path d="M1154.7,100 L1141.7,106.4" stroke-width="3.96"/>
<path d="M1154.7,85.9 L1154.7,96.7" stroke-width="1.65"/>
<path d="M1139.6,108.6 L1111.5,124.8" stroke-width="1.65"/>
<ellipse cx="1155.8" cy="117.2" rx="4.2" ry="4.2" stroke-width="1.65" fill="#fcf02c"/>
<path d="M1155.8,117.2 L1143.9,124.8" stroke-width="3.96"/>
<path d="M1160,117.2 L1174.1,117.2" stroke-width="1.65"/>
<path d="M1139.6,127 L1129.9,132.4" stroke-width="1.65"/>
<ellipse cx="1217.3" cy="136.7" rx="4.2" ry="4.2" stroke-width="1.65" fill="#fcf02c"/>
<path d="M1217.3,136.7 L1206.5,144.2" stroke-width="3.96"/>
<path d="M1219.5,120.5 L1219.5,133.4" stroke-width="1.65"/>
<path d="M1203.3,146.4 L1187.1,155" stroke-width="1.65"/>
<ellipse cx="1277.8" cy="172.3" rx="4.6" ry="4.6" stroke-width="1.65" fill="#fcf02c"/>
<path d="M1277.8,172.3 L1267,181" stroke-width="3.96"/>
<path d="M1278.9,154 L1278.9,168" stroke-width="1.65"/>
<path d="M1265,182 L1251.9,189.6" stroke-width="1.65"/>
<ellipse cx="1318.9" cy="175.5" rx="3.8" ry="3.8" stroke-width="1.65" fill="#fcf02c"/>
<path d="M1318.9,175.5 L1306.5,183.5" stroke-width="3.96"/>
<path d="M1318.9,158.3 L1318.9,171.2" stroke-width="1.65"/>
<path d="M1303,186 L1280,197.1" stroke-width="1.65"/>
<path d="M1053.2,251.1 L1068.3,251.1" stroke-width="1.65"/>
<path d="M1105,274.9 L1120.2,274.9" stroke-width="1.65"/>
<path d="M525.6,326.7 C525,312 527,300 529.2,295.5 C531,289 534,284 537.7,281.3 L564.7,272.8 C567,272.5 569,273 569,273.5 L600.2,294.1 L601.6,299.8" stroke-width="2.20"/>
<path d="M525.6,326.7 L529.2,332.4 L557.6,356.5 L560.4,359.4" stroke-width="2.20"/>
<path d="M537.7,281.3 L539,284 M541,282 L562,276 C565,275 566,276 565,279" stroke-width="1.76"/>
<path d="M539.1,284.1 L549.1,282.7 L560.4,280.6 L571.8,289.8 L569,296.9 L553.3,311.1 L547.7,314 L540.6,304 Z" stroke-width="2.75"/>
<path d="M529.2,329.6 L554.8,348 M551.9,314 L554.8,348" stroke-width="1.76"/>
<path d="M553.3,314 L567.5,377.8" stroke-width="1.87"/>
<path d="M597.4,294.1 C590,305 584,313 581.7,319.6 C575,333 569,343 567.5,350.9 L566.1,377.8" stroke-width="1.87"/>
<path d="M601.6,299.8 C596,308 592,313 588.8,319.6 C584,330 580,336 578.9,342.4 L578.9,377.8" stroke-width="1.87"/>
<path d="M603,295.5 C605,293 606,292.5 607.3,292.7 L628.6,287 L647,286.3 C652,287 655,289 657,292.7 L671.2,314 L682.5,329.6 L693.9,343.8 L700,345.2" stroke-width="2.20"/>
<path d="M590.3,319.6 C587,330 586,338 587.4,345.2 C588,352 590,356 591.7,358 L657,343.8 L682.5,329.6" stroke-width="1.98"/>
<path d="M591,362 L627,357 L660,344 M592,367 L625,361 L645,352" stroke-width="1.65"/>
<path d="M580.3,377.8 L603,372.2 L642.8,352.3 L659.8,343.8" stroke-width="1.98"/>
<path d="M600.2,314 L642.1,339.5" stroke-width="5.50"/>
<ellipse cx="520.7" cy="402" rx="3.2" ry="3.2" stroke-width="1.65" fill="#fcf02c"/>
<path d="M522,402 L534,401.5" stroke-width="3.96"/>
<path d="M520.4,405 L520.4,419.8" stroke-width="1.65"/>
<path d="M537.7,401.3 L567.5,399.9" stroke-width="1.65"/>
<path d="M567.5,377.8 L569.4,402.2 L578.8,405.4 L582,410.1 L652.7,447.8 L673.1,424.2 C677,421 680,418.5 684.1,418 L693.5,418 L709.2,422.7 L740.6,429.7 L776.7,432.9 L781.5,432.1 L783,408.5 L795.6,372.4 L792.4,370 L704.5,341.8 L691.9,344.1" stroke-width="2.20"/>
<path d="M578.8,405.4 L580.4,411.7 L646.4,443.1" stroke-width="1.87"/>
<path d="M610.3,399.1 L654.2,366.1 L691.9,344.1" stroke-width="1.98"/>
<path d="M610.3,399.1 L611.8,403.8 C617,408 623,412 630.7,414.8 L668.4,422.7" stroke-width="1.87"/>
<path d="M569.4,402.2 L575.7,403.8 L610.3,399.1 L729.6,371.6" stroke-width="1.87"/>
<path d="M644.8,392.8 L724.9,348.8" stroke-width="1.76" stroke-dasharray="4 3.5"/>
<path d="M731.2,345.7 L754.8,332.4" stroke-width="1.76"/>
<path d="M669.9,400.7 C677,393 685,389 693.5,386.5 L729.6,374" stroke-width="1.87"/>
<path d="M669.9,402.2 L682.5,416.4" stroke-width="1.76"/>
<path d="M673.1,402.2 L709.2,411.7 L772,385.8 M713.9,422.7 L772,391.3" stroke-width="1.87"/>
<path d="M709.2,411.7 L715.5,422.7" stroke-width="1.76"/>
<path d="M721.8,414.8 C726,410 730,407.5 734.3,407 L779.9,407.7 M725,412 L777,412 M723,418 L777,416.5 M726,421 L775,421" stroke-width="1.65"/>
<path d="M721.8,414.8 C725,422 728,426 733,427 L777,430" stroke-width="1.76"/>
<ellipse cx="762.6" cy="376.3" rx="8.5" ry="4" stroke-width="1.98"/>
<path d="M739,370.8 L789.3,370.5 M739,374.8 C748,380 755,381.8 762.6,381.8 C772,381 780,378 787.7,374" stroke-width="1.76"/>
<ellipse cx="651.1" cy="437.6" rx="5.5" ry="4.8" stroke-width="1.98"/>
<ellipse cx="650.5" cy="437.5" rx="1.5" ry="3" stroke-width="1.65"/>
<path d="M651.6,445.9 L650.2,468" stroke-width="1.65"/>
<ellipse cx="648.9" cy="479" rx="3.2" ry="3.5" stroke-width="1.65" fill="#fcf02c"/>
<path d="M649.2,469 L649,478" stroke-width="3.74"/>
<path d="M625.5,478.4 L643.4,478.4" stroke-width="1.65"/>
<path d="M514.5,256.7 L484.5,273.4 L524.5,296.8" stroke-width="1.76"/>
<path d="M524.5,296.8 L586.8,331.3" stroke-width="1.65" stroke-dasharray="4 3.5"/>
<path d="M513.4,317.9 L525.6,317.9" stroke-width="1.65"/>
<path d="M516.2,245.2 C516.2,242.2 519.4,240.7 522.0,239.5 L523.9,239.2 L532.3,244.9 C534.5,246.4 534.2,248.8 532.9,251.2 C534.2,253.3 533.9,257.8 531.3,258.4 L526.5,258.4 L517.5,253.6 C515.6,251.8 515.9,248.8 516.2,245.2 Z" stroke-width="1.4" fill="#fcf02c"/>
<path d="M522.6,242.8 L529.4,246.1 M517.8,245.8 L531.3,249.1 M523.3,248.8 L523.3,254.2 M527.1,255.4 L531.3,256.3" stroke="rgb(40,42,104)" stroke-width="1.3"/>
<circle cx="519.1" cy="250.3" r="1.6" fill="rgb(40,42,104)" stroke="none"/>
<circle cx="528.4" cy="252.4" r="1.2" fill="rgb(40,42,104)" stroke="none"/>
<path d="M529,221.1 L529,238.9" stroke-width="1.65"/>
<path d="M615.2,265.3 C615.2,262.3 618.4,260.8 621.0,259.6 L622.9,259.3 L631.3,265.0 C633.5,266.5 633.2,268.9 631.9,271.2 C633.2,273.3 632.9,277.8 630.3,278.4 L625.5,278.4 L616.5,273.6 C614.6,271.8 614.9,268.9 615.2,265.3 Z" stroke-width="1.4" fill="#fcf02c"/>
<path d="M621.6,262.9 L628.4,266.2 M616.8,265.9 L630.3,269.1 M622.3,268.9 L622.3,274.2 M626.1,275.4 L630.3,276.3" stroke="rgb(40,42,104)" stroke-width="1.3"/>
<circle cx="618.1" cy="270.3" r="1.6" fill="rgb(40,42,104)" stroke="none"/>
<circle cx="627.4" cy="272.4" r="1.2" fill="rgb(40,42,104)" stroke="none"/>
<path d="M628.6,242.3 L628.6,259" stroke-width="1.65"/>
<path d="M695.3,309.8 C695.3,306.8 698.5,305.3 701.1,304.1 L703.0,303.8 L711.4,309.5 C713.6,311.0 713.3,313.4 712.0,315.7 C713.3,317.8 713.0,322.3 710.4,322.9 L705.6,322.9 L696.6,318.1 C694.7,316.3 695.0,313.4 695.3,309.8 Z" stroke-width="1.4" fill="#fcf02c"/>
<path d="M701.7,307.4 L708.5,310.7 M696.9,310.4 L710.4,313.6 M702.4,313.4 L702.4,318.7 M706.2,319.9 L710.4,320.8" stroke="rgb(40,42,104)" stroke-width="1.3"/>
<circle cx="698.2" cy="314.8" r="1.6" fill="rgb(40,42,104)" stroke="none"/>
<circle cx="707.5" cy="316.9" r="1.2" fill="rgb(40,42,104)" stroke="none"/>
<path d="M706.5,286.8 L706.5,303.5" stroke-width="1.65"/>
<path d="M755.4,320.9 C755.4,317.9 758.6,316.4 761.2,315.2 L763.1,314.9 L771.5,320.6 C773.7,322.1 773.4,324.5 772.1,326.8 C773.4,328.9 773.1,333.4 770.5,334.0 L765.7,334.0 L756.7,329.2 C754.8,327.4 755.1,324.5 755.4,320.9 Z" stroke-width="1.4" fill="#fcf02c"/>
<path d="M761.8,318.5 L768.6,321.8 M757.0,321.5 L770.5,324.7 M762.5,324.5 L762.5,329.8 M766.3,331.0 L770.5,331.9" stroke="rgb(40,42,104)" stroke-width="1.3"/>
<circle cx="758.3" cy="325.9" r="1.6" fill="rgb(40,42,104)" stroke="none"/>
<circle cx="767.6" cy="328.0" r="1.2" fill="rgb(40,42,104)" stroke="none"/>
<path d="M774.8,326.8 L792.6,326.8" stroke-width="1.65"/>
<path d="M753.7,333.5 L740.3,340" stroke-width="1.65"/>
<path d="M1073.1,247.5 C1073.1,244.6 1075.3,243.2 1077.1,242.0 L1078.5,241.7 L1084.4,247.3 C1086.0,248.7 1085.8,251.1 1084.9,253.4 C1085.8,255.4 1085.5,259.8 1083.7,260.4 L1080.3,260.4 L1074.0,255.7 C1072.6,254.0 1072.8,251.1 1073.1,247.5 Z" stroke-width="1.4" fill="#fcf02c"/>
<path d="M1077.6,245.2 L1082.4,248.4 M1074.2,248.1 L1083.7,251.3 M1078.1,251.1 L1078.1,256.3 M1080.8,257.5 L1083.7,258.4" stroke="rgb(40,42,104)" stroke-width="1.3"/>
<circle cx="1075.1" cy="252.5" r="1.6" fill="rgb(40,42,104)" stroke="none"/>
<circle cx="1081.7" cy="254.6" r="1.2" fill="rgb(40,42,104)" stroke="none"/>
<path d="M1121,264 C1121,262 1123,261 1125,261 L1136,260.5 C1139,260.5 1140,263 1140,265 L1139.5,275 C1139.5,277 1138,278 1136,278 L1124,278.5 C1122,278.5 1120.5,277 1120.5,275 Z" stroke-width="1.54" fill="#fcf02c"/>
<path d="M1124,265 L1137,264 M1124,268 L1124,275" stroke="rgb(40,42,104)" stroke-width="1.2"/>
<ellipse cx="1132" cy="270.5" rx="2.6" ry="1.8" fill="rgb(40,42,104)" stroke="none"/>
<ellipse cx="1132" cy="270.5" rx="1.2" ry="0.8" fill="#fcf02c" stroke="none"/>
<path d="M459,489.7 L462.6,476 L464.9,479.3 L485.2,470.1 L488.8,480.9 L471.4,490.4 L473.4,494.3 Z" stroke-width="1.10" fill="#fcf02c"/>
<text x="0" y="0" font-size="16.5" font-weight="bold" stroke="#fcf02c" stroke-width="0.7" transform="translate(488.5,480) rotate(-28)">FR.</text>
<text x="1246.5" y="497" font-size="10.6" stroke="none" letter-spacing="-0.1">KWBIF0500</text>
</g>
</svg>
</body></html>
